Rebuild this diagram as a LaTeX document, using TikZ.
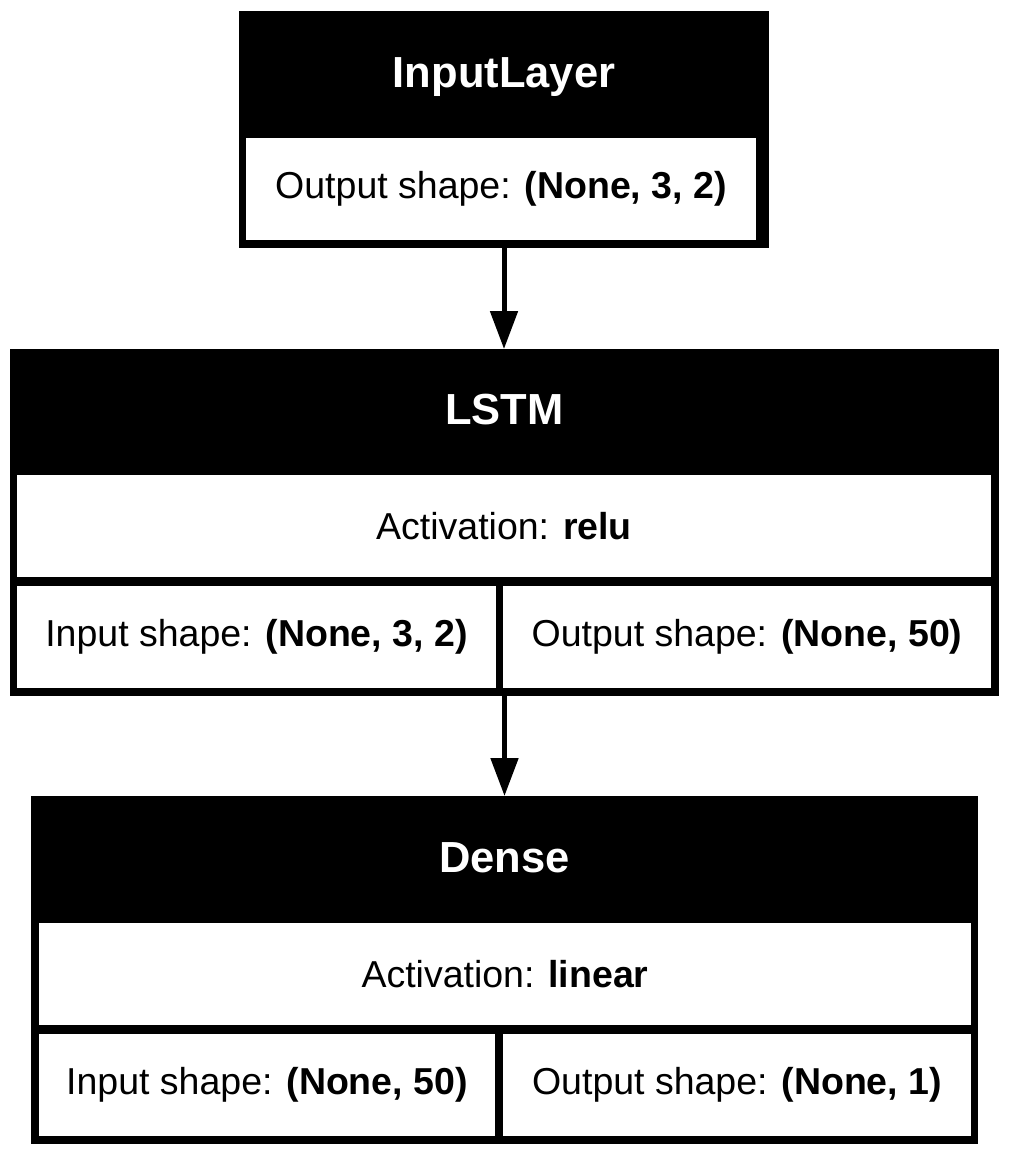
\documentclass[tikz,border=0pt]{standalone}
\usepackage{fontspec}
\setmainfont{Liberation Sans}
\usetikzlibrary{arrows.meta}

\tikzset{
  layerbox/.style={fill=black, inner sep=0pt, outer sep=0pt},
  cellbox/.style={fill=white, inner sep=0pt, outer sep=0pt, minimum height=102pt,
    font=\fontsize{37.5}{45}\selectfont},
  headtext/.style={text=white, inner sep=0pt, anchor=base, font=\fontsize{43.5}{52}\selectfont\bfseries},
  flow/.style={line width=5pt, -{Triangle[length=38pt,width=27pt]}}
}

\begin{document}
\begin{tikzpicture}[x=1pt,y=-1pt]
    \useasboundingbox (0,0) rectangle (1009,1156);

    % InputLayer
    \node[layerbox, minimum width=530pt, minimum height=237pt] (inlayer) at (504,129.5) {};
    \node[headtext] (inlayername) at (504,87.3) {InputLayer};
    \node[cellbox, minimum width=510pt] (inlayerout) at (501,189)
        {Output shape: \textbf{(None, 3, 2)}};

    % LSTM
    \node[layerbox, minimum width=989pt, minimum height=347pt] (lstm) at (504.5,522.5) {};
    \node[headtext] (lstmname) at (504.5,424.8) {LSTM};
    \node[cellbox, minimum width=974pt] (lstmact) at (504,526)
        {Activation: \textbf{relu}};
    \node[cellbox, minimum width=479pt] (lstmin) at (256.5,637)
        {Input shape: \textbf{(None, 3, 2)}};
    \node[cellbox, minimum width=488pt] (lstmout) at (747,637)
        {Output shape: \textbf{(None, 50)}};

    % Dense
    \node[layerbox, minimum width=947pt, minimum height=347.5pt] (dense) at (504.5,969.75) {};
    \node[headtext] (densename) at (504.5,872.3) {Dense};
    \node[cellbox, minimum width=932pt] (denseact) at (505,974)
        {Activation: \textbf{linear}};
    \node[cellbox, minimum width=456pt] (densein) at (267,1085)
        {Input shape: \textbf{(None, 50)}};
    \node[cellbox, minimum width=468pt] (denseout) at (737,1085)
        {Output shape: \textbf{(None, 1)}};

    \draw[flow] (inlayer.south) -- (inlayer.south |- lstm.north);
    \draw[flow] (lstm.south) -- (lstm.south |- dense.north);
\end{tikzpicture}
\end{document}
